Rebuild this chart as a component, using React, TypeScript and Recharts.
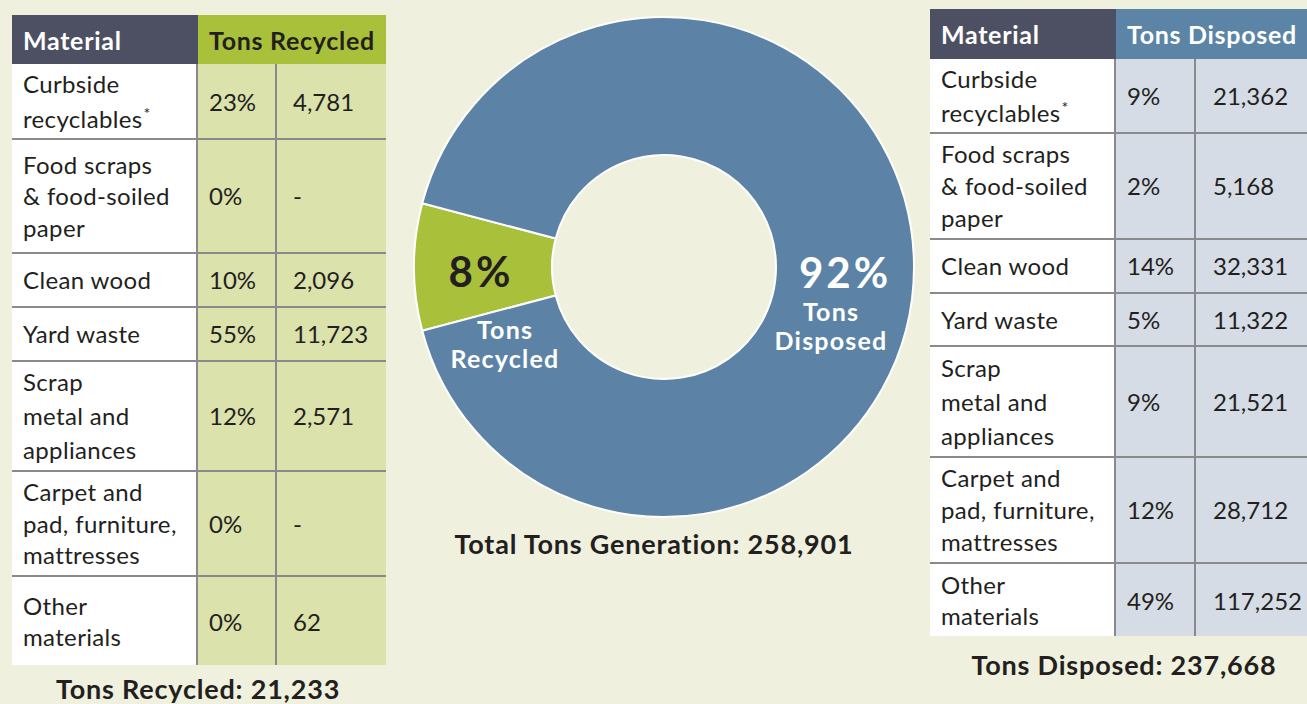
import React from "react";
import { PieChart, Pie, Cell } from "recharts";

// ---------- data ----------
const materials = [
  ["Curbside", "recyclables*"],
  ["Food scraps", "& food-soiled", "paper"],
  ["Clean wood"],
  ["Yard waste"],
  ["Scrap", "metal and", "appliances"],
  ["Carpet and", "pad, furniture,", "mattresses"],
  ["Other", "materials"],
];
const recycledPct = ["23%", "0%", "10%", "55%", "12%", "0%", "0%"];
const recycledTons = ["4,781", "-", "2,096", "11,723", "2,571", "-", "62"];
const disposedPct = ["9%", "2%", "14%", "5%", "9%", "12%", "49%"];
const disposedTons = ["21,362", "5,168", "32,331", "11,322", "21,521", "28,712", "117,252"];
const pieNames = ["Tons Recycled", "Tons Disposed"];
const pieValues = [21233, 237668];
const totalGeneration = "258,901";
const totalRecycled = "21,233";
const totalDisposed = "237,668";

const pieData = pieNames.map((name, i) => ({ name, value: pieValues[i] }));

// ---------- layout / style ----------
const BG = "#eff0de";
const TEXT = "#231f20";
const GRID = "#8a8a8c";
const FONT = "Lato, 'Noto Sans', sans-serif";
const BOLD = "Lato, 'Noto Sans', sans-serif";

const leftRowHeights = [76, 114, 54, 54, 110, 105, 88];
const rightRowHeights = [75, 106, 54, 53, 111, 106, 72];
const leftLineHeights = [35, 31.5, 32, 32, 34, 31.5, 31];
const rightLineHeights = [34, 32, 32, 32, 34, 32, 31];

const RAD = Math.PI / 180;

function MaterialText({ lines }: { lines: string[] }) {
  return (
    <>
      {lines.map((l, i) => {
        const star = l.endsWith("*");
        const t = star ? l.slice(0, -1) : l;
        return (
          <div key={i}>
            {t}
            {star && (
              <span style={{ fontSize: 16, verticalAlign: "top", position: "relative", top: -6, marginLeft: 1 }}>*</span>
            )}
          </div>
        );
      })}
    </>
  );
}

type TableProps = {
  left: number;
  top: number;
  widths: number[];
  headerHeight: number;
  rowHeights: number[];
  lineHeights: number[];
  headerRight: string;
  headerRightBg: string;
  headerRightColor: string;
  cellBg: string;
  pct: string[];
  tons: string[];
  pads: number[];
};

function DataTable(p: TableProps) {
  return (
    <div style={{ position: "absolute", left: p.left, top: p.top, width: p.widths[0] + p.widths[1] + p.widths[2] }}>
      <div style={{ display: "flex", height: p.headerHeight, fontWeight: 700, fontSize: 25, fontFamily: BOLD, letterSpacing: 0.7 }}>
        <div
          style={{
            width: p.widths[0],
            background: "#4d5062",
            color: "#ffffff",
            display: "flex",
            alignItems: "center",
            paddingLeft: p.pads[0],
            boxSizing: "border-box",
          }}
        >
          Material
        </div>
        <div
          style={{
            width: p.widths[1] + p.widths[2],
            background: p.headerRightBg,
            color: p.headerRightColor,
            display: "flex",
            alignItems: "center",
            paddingLeft: 11,
            boxSizing: "border-box",
            whiteSpace: "nowrap",
          }}
        >
          {p.headerRight}
        </div>
      </div>
      {materials.map((m, i) => {
        const last = i === materials.length - 1;
        const bb = last ? "none" : `2px solid ${GRID}`;
        const cell: React.CSSProperties = {
          height: p.rowHeights[i],
          display: "flex",
          alignItems: "center",
          boxSizing: "border-box",
          borderBottom: bb,
        };
        return (
          <div key={i} style={{ display: "flex", fontSize: 24, lineHeight: `${p.lineHeights[i]}px` }}>
            <div
              style={{
                ...cell,
                width: p.widths[0],
                background: "#ffffff",
                paddingLeft: p.pads[0],
                borderRight: `2px solid ${GRID}`,
                whiteSpace: "nowrap",
                letterSpacing: 0.35,
              }}
            >
              <div>
                <MaterialText lines={m} />
              </div>
            </div>
            <div
              style={{
                ...cell,
                width: p.widths[1],
                background: p.cellBg,
                paddingLeft: p.pads[1],
                borderRight: `2px solid ${GRID}`,
              }}
            >
              {p.pct[i]}
            </div>
            <div style={{ ...cell, width: p.widths[2], background: p.cellBg, paddingLeft: p.pads[2] }}>
              {p.tons[i]}
            </div>
          </div>
        );
      })}
    </div>
  );
}

function renderPieLabel(props: any) {
  const { cx, cy, midAngle, innerRadius, outerRadius, percent, index } = props;
  const r = (Number(innerRadius) + Number(outerRadius)) / 2;
  const x = cx + r * Math.cos(-midAngle * RAD);
  const y = cy + r * Math.sin(-midAngle * RAD);
  const pct = `${Math.round(percent * 100)}%`;
  const words = pieNames[index].split(" ");
  const nameStyle = { fontSize: 25, fontWeight: 700, fontFamily: BOLD, letterSpacing: 1.2 };
  if (index === 0) {
    return (
      <g>
        <text x={x - 2} y={y + 4} textAnchor="middle" dominantBaseline="central" fill={TEXT} fontSize={42} fontWeight={700} fontFamily={BOLD} letterSpacing={3}>
          {pct}
        </text>
        {words.map((w, i) => (
          <text key={i} x={x + 22} y={y + 62 + i * 29} textAnchor="middle" dominantBaseline="central" fill="#ffffff" {...nameStyle}>
            {w}
          </text>
        ))}
      </g>
    );
  }
  return (
    <g>
      <text x={x} y={y + 5} textAnchor="middle" dominantBaseline="central" fill="#ffffff" fontSize={42} fontWeight={700} fontFamily={BOLD} letterSpacing={3}>
        {pct}
      </text>
      {words.map((w, i) => (
        <text key={i} x={x - 14} y={y + 44 + i * 29} textAnchor="middle" dominantBaseline="central" fill="#ffffff" {...nameStyle}>
          {w}
        </text>
      ))}
    </g>
  );
}

const greenSweep = (pieValues[0] / (pieValues[0] + pieValues[1])) * 360;
const startAngle = 180 - greenSweep / 2;

const footer: React.CSSProperties = {
  position: "absolute",
  width: 440,
  textAlign: "center",
  fontWeight: 700,
  fontSize: 27,
  fontFamily: BOLD,
  letterSpacing: 0.8,
  whiteSpace: "nowrap",
};

export default function App() {
  return (
    <div
      style={{
        position: "absolute",
        left: 0,
        top: 0,
        width: 1307,
        height: 704,
        background: BG,
        overflow: "hidden",
        fontFamily: FONT,
        color: TEXT,
      }}
    >
      <DataTable
        left={12}
        top={15}
        widths={[186, 79, 109]}
        headerHeight={49}
        rowHeights={leftRowHeights}
        lineHeights={leftLineHeights}
        headerRight="Tons Recycled"
        headerRightBg="#a9c03a"
        headerRightColor={TEXT}
        cellBg="#dbe2ab"
        pct={recycledPct}
        tons={recycledTons}
        pads={[11, 11, 16]}
      />
      <div style={{ ...footer, left: 198 - 220, top: 672 }}>Tons Recycled: {totalRecycled}</div>

      <div style={{ position: "absolute", left: 399, top: 2 }}>
        <PieChart width={520} height={520}>
          <Pie
            data={pieData}
            dataKey="value"
            nameKey="name"
            cx={260}
            cy={260}
            innerRadius={112}
            outerRadius={250}
            startAngle={startAngle}
            endAngle={startAngle + 360}
            stroke="#ffffff"
            strokeWidth={2}
            label={renderPieLabel}
            labelLine={false}
            isAnimationActive={false}
          >
            <Cell fill="#a9c03a" />
            <Cell fill="#5c83a5" />
          </Pie>
        </PieChart>
      </div>
      <div style={{ ...footer, left: 654 - 220, top: 527 }}>Total Tons Generation: {totalGeneration}</div>

      <DataTable
        left={930}
        top={9}
        widths={[186, 80, 120]}
        headerHeight={50}
        rowHeights={rightRowHeights}
        lineHeights={rightLineHeights}
        headerRight="Tons Disposed"
        headerRightBg="#5b84a6"
        headerRightColor="#ffffff"
        cellBg="#d5dce5"
        pct={disposedPct}
        tons={disposedTons}
        pads={[11, 11, 17]}
      />
      <div style={{ ...footer, left: 1124 - 220, top: 648 }}>Tons Disposed: {totalDisposed}</div>
    </div>
  );
}
